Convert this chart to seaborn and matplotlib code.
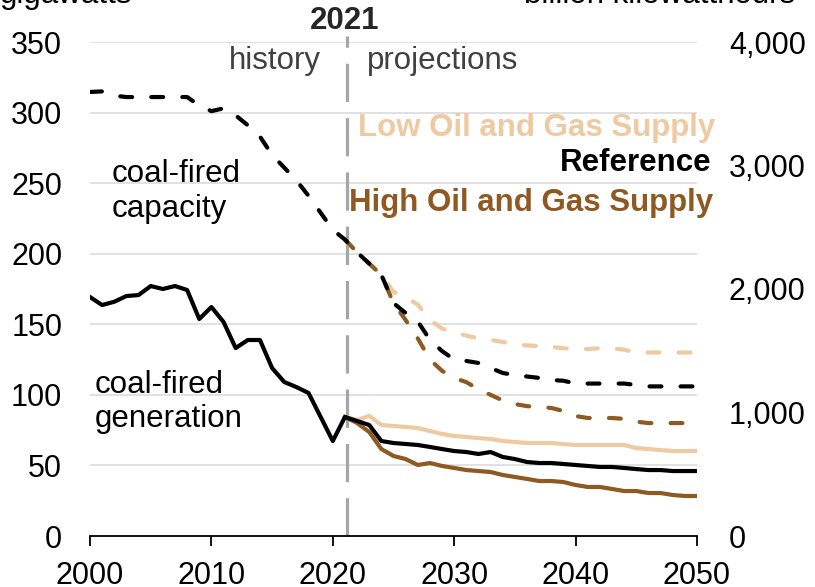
import numpy as np
import pandas as pd
import seaborn as sns
import matplotlib
matplotlib.use("Agg")
import matplotlib.pyplot as plt
from matplotlib.ticker import FuncFormatter

# years
hist_years = list(range(2000, 2022))
proj_years = list(range(2021, 2051))

# coal-fired capacity, gigawatts (left axis)
cap_hist = [314.6, 315, 312, 311, 311, 311, 311, 311, 311, 305, 301, 303,
            298, 291, 283, 270, 261, 252, 241, 229, 217, 210]
cap_ref = [210, 201, 193, 185, 165, 158, 152, 139, 131, 125, 124, 122.6, 119,
           115.5, 114, 113, 112, 110.5, 110, 108, 108, 108, 108, 108, 107,
           106, 106, 106, 106, 106]
cap_low = [210, 201, 193, 185, 173, 169, 164, 153, 147, 144, 142, 140, 139,
           137.5, 136, 135, 134.6, 134, 133, 132.5, 132.5, 133, 133, 132, 130,
           130, 130, 130, 130, 130]
cap_high = [210, 201, 193, 185, 165, 153, 140, 125, 117, 112, 109, 104, 100,
            96, 93.5, 92, 91.4, 90.7, 88.6, 85, 83.6, 83.6, 83.6, 83, 81, 80,
            80, 80, 80, 80]

# coal-fired generation, billion kilowatthours (right axis)
gen_hist = [1935, 1870, 1897, 1943, 1951, 2024, 2000, 2024, 1992, 1757, 1854,
            1733, 1522, 1587, 1587, 1360, 1247, 1206, 1158, 964, 769, 964]
gen_ref = [964, 931, 899, 769, 753, 745, 737, 721, 704, 688, 680, 664, 680,
           640, 623, 599, 591, 591, 583, 575, 567, 559, 559, 551, 542, 534,
           534, 526, 526, 526]
gen_low = [964, 939, 972, 899, 891, 883, 874, 850, 826, 810, 802, 793, 785,
           769, 761, 753, 753, 753, 745, 737, 737, 737, 737, 737, 712, 704,
           696, 688, 688, 688]
gen_high = [964, 915, 842, 704, 648, 623, 575, 591, 567, 551, 534, 526, 518,
            494, 478, 462, 445, 445, 437, 413, 397, 397, 381, 364, 364, 348,
            348, 332, 324, 324]

LOW = "#EFC9A1"
HIGH = "#8F5A22"
REF = "black"

plt.rcParams['font.family'] = ['Liberation Sans', 'DejaVu Sans']
plt.rcParams['font.size'] = 22.5

fig = plt.figure(figsize=(8.15, 5.87), dpi=100)
ax = fig.add_axes([90 / 815, 1 - 536 / 587, 607 / 815, 494 / 587])
ax2 = ax.twinx()

lw = 3.0
dash = (0, (2.85, 4.6))
dkw = dict(lw=lw, linestyle=dash, dash_capstyle='round')

# capacity (dashed)
sns.lineplot(x=proj_years, y=cap_low, ax=ax, color=LOW, **dkw)
sns.lineplot(x=proj_years, y=cap_high, ax=ax, color=HIGH, **dkw)
sns.lineplot(x=hist_years + proj_years[1:], y=cap_hist + cap_ref[1:], ax=ax,
             color=REF, **dkw)

# generation (solid)
sns.lineplot(x=proj_years, y=gen_low, ax=ax2, color=LOW, lw=lw)
sns.lineplot(x=proj_years, y=gen_high, ax=ax2, color=HIGH, lw=lw)
sns.lineplot(x=hist_years + proj_years[1:], y=gen_hist + gen_ref[1:], ax=ax2,
             color=REF, lw=lw)

ax.set_xlim(2000, 2050)
ax.set_ylim(0, 350)
ax2.set_ylim(0, 4000)
ax.set_xticks(range(2000, 2051, 10))
ax.set_yticks(range(0, 351, 50))
ax2.set_yticks(range(0, 4001, 1000))
ax2.yaxis.set_major_formatter(FuncFormatter(lambda v, p: f"{int(v):,}"))

for a in (ax, ax2):
    for s in a.spines.values():
        s.set_visible(False)
    a.set_xlabel('')
    a.set_ylabel('')
ax.spines['bottom'].set_visible(True)
ax.spines['bottom'].set_linewidth(1.3)
ax.tick_params(axis='x', length=7, width=1.3, pad=11, labelsize=22)
ax.tick_params(axis='y', length=0, pad=20, labelsize=22)
ax2.tick_params(axis='y', length=0, pad=23, labelsize=22)

for v in range(50, 351, 50):
    ax.axhline(v, color="#D9D9D9", lw=1.1, zorder=0)

ax.axvline(2021.15, ymin=0, ymax=1.012, color="#A6A6A6", lw=2.3,
           linestyle=(0, (12, 5)), clip_on=False, zorder=1)

ax.text(2021, 365, "2021", ha='center', va='center', fontweight='bold',
        color="#262626", clip_on=False)
ax.text(2019.0, 336.5, "history", ha='right', va='center', color="#404040")
ax.text(2022.8, 336.5, "projections", ha='left', va='center', color="#404040")

ax.text(2051.5, 289, "Low Oil and Gas Supply", ha='right', va='center',
        color=LOW, fontweight='bold', clip_on=False)
ax.text(2051.2, 264, "Reference", ha='right', va='center',
        color=REF, fontweight='bold', clip_on=False)
ax.text(2051.3, 236, "High Oil and Gas Supply", ha='right', va='center',
        color=HIGH, fontweight='bold', clip_on=False)

ax.text(2001.8, 244, "coal-fired\ncapacity", ha='left', va='center',
        linespacing=1.25)
ax.text(2000.4, 95, "coal-fired\ngeneration", ha='left', va='center',
        linespacing=1.2)

fig.text(0.0, 1 - 3 / 587, "gigawatts", ha='left', va='baseline')
fig.text(795 / 815, 1 - 3 / 587, "billion kilowatthours", ha='right',
         va='baseline')

fig.savefig("out.png", dpi=100)
